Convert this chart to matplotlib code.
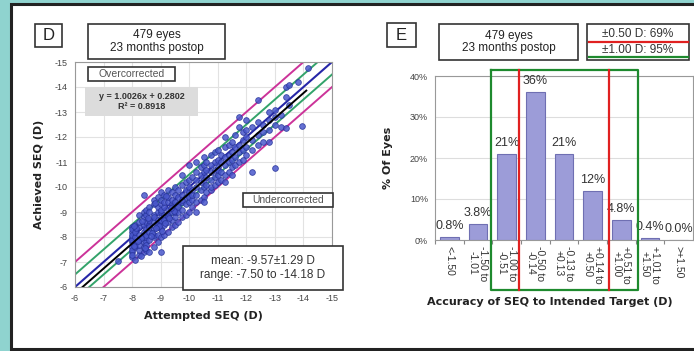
import numpy as np
import matplotlib
matplotlib.use("Agg")
import matplotlib.pyplot as plt
from matplotlib.patches import Rectangle

W, H = 694, 351

# ---- Panel D data: attempted vs achieved SEQ (D) ----
attempted = [
    -8.0, -8.0, -8.0, -8.0, -8.0, -8.0, -8.0, -8.0, -8.0, -8.0, -8.0, -8.0,
    -8.1, -8.1, -8.1, -8.1, -8.1, -8.1,
    -8.25, -8.25, -8.25, -8.25, -8.25, -8.25, -8.25, -8.25,
    -8.4, -8.4, -8.4, -8.4, -8.4, -8.4, -8.4, -8.4, -8.4,
    -8.5, -8.5, -8.5, -8.5, -8.5, -8.5, -8.5, -8.5, -8.5,
    -8.6, -8.6, -8.6, -8.6, -8.6, -8.6, -8.6, -8.6,
    -8.75, -8.75, -8.75, -8.75, -8.75, -8.75, -8.75, -8.75, -8.75,
    -8.9, -8.9, -8.9, -8.9, -8.9, -8.9, -8.9, -8.9,
    -9.0, -9.0, -9.0, -9.0, -9.0, -9.0, -9.0, -9.0, -9.0, -9.0, -9.0,
    -9.1, -9.1, -9.1, -9.1, -9.1, -9.1, -9.1,
    -9.25, -9.25, -9.25, -9.25, -9.25, -9.25, -9.25, -9.25,
    -9.4, -9.4, -9.4, -9.4, -9.4, -9.4, -9.4,
    -9.5, -9.5, -9.5, -9.5, -9.5, -9.5, -9.5,
    -9.6, -9.6, -9.6, -9.6, -9.6, -9.6,
    -9.75, -9.75, -9.75, -9.75, -9.75, -9.75, -9.75,
    -9.9, -9.9, -9.9, -9.9, -9.9,
    -10.0, -10.0, -10.0, -10.0, -10.0, -10.0, -10.0,
    -10.1, -10.1, -10.1, -10.1, -10.1,
    -10.25, -10.25, -10.25, -10.25, -10.25, -10.25, -10.25,
    -10.4, -10.4, -10.4, -10.4, -10.4,
    -10.5, -10.5, -10.5, -10.5, -10.5, -10.5, -10.5,
    -10.6, -10.6, -10.6, -10.6, -10.6,
    -10.75, -10.75, -10.75, -10.75, -10.75, -10.75,
    -10.9, -10.9, -10.9, -10.9, -10.9,
    -11.0, -11.0, -11.0, -11.0, -11.0, -11.0,
    -11.1, -11.1, -11.1, -11.1,
    -11.25, -11.25, -11.25, -11.25, -11.25, -11.25,
    -11.4, -11.4, -11.4, -11.4,
    -11.5, -11.5, -11.5, -11.5, -11.5,
    -11.6, -11.6, -11.6, -11.6,
    -11.75, -11.75, -11.75, -11.75, -11.75,
    -11.9, -11.9, -11.9, -11.9,
    -12.0, -12.0, -12.0, -12.0, -12.0,
    -12.2, -12.2, -12.2, -12.2,
    -12.4, -12.4, -12.4, -12.4,
    -12.6, -12.6, -12.6,
    -12.8, -12.8, -12.8, -12.8,
    -13.0, -13.0, -13.0, -13.0,
    -13.2, -13.2,
    -13.4, -13.4, -13.4,
    -13.5, -13.5,
    -13.8, -13.95, -14.15, -7.5,
    -8.05, -8.15, -8.3, -8.45, -8.55, -8.7, -8.8, -8.95, -9.05, -9.2,
    -9.3, -9.45, -8.2, -8.35, -8.65, -8.85, -9.15, -9.35, -8.05, -8.3,
]
achieved = [
    -7.2, -7.4, -7.6, -7.8, -8.0, -8.2, -8.4, -7.5, -7.9, -8.1, -7.3, -8.3,
    -7.1, -7.7, -8.5, -8.0, -7.6, -8.2,
    -7.3, -7.5, -7.9, -8.4, -8.6, -8.1, -7.7, -8.9,
    -7.4, -7.8, -8.2, -8.5, -8.8, -9.0, -8.0, -7.6, -9.7,
    -7.5, -7.8, -8.0, -8.3, -8.6, -8.9, -9.1, -8.1, -7.7,
    -7.4, -7.9, -8.2, -8.5, -8.7, -9.2, -9.0, -8.4,
    -7.6, -8.0, -8.3, -8.6, -8.9, -9.3, -9.5, -8.1, -8.8,
    -7.8, -8.1, -8.4, -8.7, -9.0, -9.2, -9.6, -8.5,
    -7.4, -8.0, -8.3, -8.6, -8.8, -9.0, -9.3, -9.5, -9.8, -8.7, -9.1,
    -8.1, -8.5, -8.9, -9.2, -9.4, -9.7, -8.7,
    -8.2, -8.6, -8.9, -9.1, -9.4, -9.6, -9.9, -8.8,
    -8.4, -8.7, -9.0, -9.3, -9.5, -9.8, -9.2,
    -8.5, -8.8, -9.1, -9.4, -9.7, -10.0, -9.0,
    -8.6, -9.0, -9.3, -9.6, -9.9, -9.2,
    -8.8, -9.1, -9.4, -9.7, -10.1, -9.5, -10.5,
    -8.9, -9.3, -9.6, -9.9, -10.2,
    -9.0, -9.4, -9.8, -10.0, -10.3, -10.9, -9.6,
    -9.2, -9.5, -9.9, -10.4, -9.7,
    -9.4, -9.7, -10.0, -10.3, -10.6, -11.0, -9.0,
    -9.5, -9.9, -10.2, -10.5, -10.8,
    -9.6, -10.0, -10.3, -10.6, -10.9, -11.2, -9.4,
    -9.8, -10.1, -10.4, -10.7, -11.0,
    -9.9, -10.3, -10.6, -10.9, -11.3, -10.0,
    -10.1, -10.4, -10.7, -11.0, -11.4,
    -10.2, -10.5, -10.8, -11.1, -11.5, -10.7,
    -10.3, -10.6, -11.0, -11.3,
    -10.5, -10.9, -11.2, -11.6, -12.0, -10.2,
    -10.6, -11.0, -11.3, -11.7,
    -10.8, -11.1, -11.4, -11.8, -10.5,
    -10.9, -11.2, -11.6, -12.1,
    -11.0, -11.4, -11.7, -12.4, -12.8,
    -11.1, -11.5, -11.9, -12.2,
    -11.3, -11.6, -12.0, -12.3, -12.7,
    -10.6, -11.5, -11.9, -12.4,
    -11.7, -12.1, -12.6, -13.5,
    -11.8, -12.2, -12.5,
    -11.8, -12.3, -12.7, -13.0,
    -10.75, -12.5, -12.8, -13.1,
    -12.4, -12.9,
    -12.35, -13.6, -14.0,
    -14.1, -13.3,
    -14.2, -12.45, -14.75, -7.05,
    -7.65, -8.35, -7.95, -7.55, -8.75, -8.15, -9.35, -8.45, -8.25, -9.65,
    -8.75, -9.05, -7.85, -8.65, -8.05, -8.35, -8.55, -9.15, -8.45, -7.25,
]
fit_slope = 1.0026
fit_intercept = 0.2802
seq_ticks = [-6, -7, -8, -9, -10, -11, -12, -13, -14, -15]

# ---- Panel E data: accuracy histogram ----
bins = ["<-1.50", "-1.50 to\n-1.01", "-1.00 to\n-0.51", "-0.50 to\n-0.14",
        "-0.13 to\n+0.13", "+0.14 to\n+0.50", "+0.51 to\n+1.00",
        "+1.01 to\n+1.50", ">+1.50"]
pct_eyes = [0.8, 3.8, 21, 36, 21, 12, 4.8, 0.4, 0.0]
pct_labels = ["0.8%", "3.8%", "21%", "36%", "21%", "12%", "4.8%", "0.4%", "0.0%"]

plt.rcParams["font.family"] = ["Liberation Sans", "DejaVu Sans"]
plt.rcParams["axes.unicode_minus"] = False

fig = plt.figure(figsize=(W / 100, H / 100), dpi=100)
fig.patch.set_facecolor("#8fd3cf")


def px_rect(x0, y0, x1, y1, fc="white", ec="#333333", lw=1.2, z=1):
    r = Rectangle((x0 / W, 1 - y1 / H), (x1 - x0) / W, (y1 - y0) / H,
                  transform=fig.transFigure, facecolor=fc, edgecolor=ec,
                  linewidth=lw, zorder=z)
    fig.add_artist(r)


def px_text(x, y, s, **kw):
    fig.text(x / W, 1 - y / H, s, ha="center", va="center", zorder=5, **kw)


# white page with dark border
px_rect(11, 4, 720, 349, fc="white", ec="#222222", lw=2.2, z=0)

# ---------------- Panel D ----------------
ax1 = fig.add_axes([75 / W, 1 - 287 / H, (332 - 75) / W, (287 - 62) / H])
ax1.set_xlim(-6, -15)
ax1.set_ylim(-6, -15)
ax1.set_xticks(seq_ticks)
ax1.set_yticks(seq_ticks)
ax1.tick_params(labelsize=6.5, colors="#444444", length=0, pad=5)
ax1.grid(True, color="#e2e2e2", linewidth=0.8)
ax1.set_axisbelow(True)
for s in ax1.spines.values():
    s.set_color("#999999")
    s.set_linewidth(0.8)

xs = np.array([-6, -15])
ax1.plot(xs, xs - 1, color="#cc3399", lw=1.4)
ax1.plot(xs, xs + 1, color="#cc3399", lw=1.4)
ax1.plot(xs, xs - 0.5, color="#33a36a", lw=1.4)
ax1.plot(xs, xs + 0.5, color="#33a36a", lw=1.4)
ax1.plot(xs, xs, color="#2626a8", lw=1.5)
ax1.scatter(attempted, achieved, s=17, facecolor="#4a58cc", edgecolor="#27339a",
            linewidth=0.6, alpha=0.85, zorder=3)
fx = np.array([(-6 - fit_intercept) / fit_slope, -14.1])
ax1.plot(fx, fit_slope * fx + fit_intercept, color="black", lw=1.4, zorder=4)

ax1.set_xlabel("Attempted SEQ (D)", fontsize=8, fontweight="bold",
               family="DejaVu Sans", color="#222222", labelpad=6)
ax1.set_ylabel("Achieved SEQ (D)", fontsize=8, fontweight="bold",
               family="DejaVu Sans", color="#222222", labelpad=8)

px_rect(35, 24, 62, 47)
px_text(48.5, 35.5, "D", fontsize=12, color="#222222")
px_rect(88, 24, 225, 59)
px_text(156.5, 41.5, "479 eyes\n23 months postop", fontsize=8.5,
        color="#222222", linespacing=1.1)
px_rect(88, 67, 175, 81, z=3)
px_text(131.5, 74, "Overcorrected", fontsize=7.5, color="#555555")
px_rect(85, 87, 198, 116, fc="#dcdcdc", ec="none", z=3)
px_text(141.5, 101.5, "y = 1.0026x + 0.2802\nR² = 0.8918", fontsize=6.5,
        fontweight="bold", color="#333333", linespacing=1.2)
px_rect(243, 193, 333, 207, z=3)
px_text(288, 200, "Undercorrected", fontsize=7.5, color="#555555")
px_rect(183, 246, 343, 290, z=3)
px_text(263, 268, "mean: -9.57±1.29 D\nrange: -7.50 to -14.18 D", fontsize=8.5,
        color="#333333", linespacing=1.3)

# ---------------- Panel E ----------------
ax2 = fig.add_axes([435 / W, 1 - 240 / H, (693 - 435) / W, (240 - 76) / H])
pos = np.arange(len(bins))
ax2.bar(pos, pct_eyes, width=0.64, color="#9c9cd8", edgecolor="#6f6fb2",
        linewidth=0.8, zorder=2)
ax2.set_xlim(-0.5, len(bins) - 0.5)
ax2.set_ylim(0, 40)
ax2.set_yticks([0, 10, 20, 30, 40])
ax2.set_yticklabels(["0%", "10%", "20%", "30%", "40%"])
ax2.yaxis.grid(True, color="#dddddd", linewidth=0.8)
ax2.set_axisbelow(True)
ax2.tick_params(axis="y", labelsize=6.5, colors="#444444", length=0, pad=5)
ax2.set_xticks(pos - 0.5)
ax2.set_xticklabels([])
ax2.tick_params(axis="x", length=3, color="#888888")
ax2.set_xticks(pos, minor=True)
ax2.set_xticklabels(bins, minor=True, rotation=-90, fontsize=7.5,
                    color="#333333", va="top", ha="center", linespacing=1.0)
ax2.tick_params(axis="x", which="minor", length=0, pad=4)
for s in ax2.spines.values():
    s.set_color("#999999")
    s.set_linewidth(0.8)
for i, v in enumerate(pct_eyes):
    ax2.text(pos[i], v + 1.2, pct_labels[i], ha="center", va="bottom",
             fontsize=9, color="#333333", zorder=4)
px_text(550, 302, "Accuracy of SEQ to Intended Target (D)", fontsize=8,
        fontweight="bold", family="DejaVu Sans", color="#222222")
ax2.set_ylabel("% Of Eyes", fontsize=8, fontweight="bold",
               family="DejaVu Sans", color="#222222", labelpad=12)

# ±1.00 D window (green) and ±0.50 D limits (red)
ax2.plot([1.44, 6.58, 6.58, 1.44, 1.44], [41.5, 41.5, -12.2, -12.2, 41.5],
         color="#1e8a2e", lw=1.6, clip_on=False, zorder=5)
ax2.plot([2.44, 2.44], [41.5, -12.2], color="#e02020", lw=1.6,
         clip_on=False, zorder=5)
ax2.plot([5.57, 5.57], [41.5, -12.2], color="#e02020", lw=1.6,
         clip_on=False, zorder=5)

px_rect(387, 23, 416, 47)
px_text(401.5, 35, "E", fontsize=12, color="#222222")
px_rect(439, 24, 578, 60)
px_text(508.5, 42, "479 eyes\n23 months postop", fontsize=8.5,
        color="#222222", linespacing=1.1)
px_rect(587, 24, 689, 60)
px_text(638, 34, "±0.50 D: 69%", fontsize=8.5, color="#333333")
px_text(638, 50, "±1.00 D: 95%", fontsize=8.5, color="#333333")
fig.add_artist(plt.Line2D([589 / W, 688 / W], [1 - 42 / H, 1 - 42 / H],
                          color="#e02020", lw=1.6, transform=fig.transFigure))
fig.add_artist(plt.Line2D([589 / W, 688 / W], [1 - 57 / H, 1 - 57 / H],
                          color="#1e8a2e", lw=1.6, transform=fig.transFigure))

fig.savefig("out.png", dpi=100, facecolor=fig.get_facecolor())
